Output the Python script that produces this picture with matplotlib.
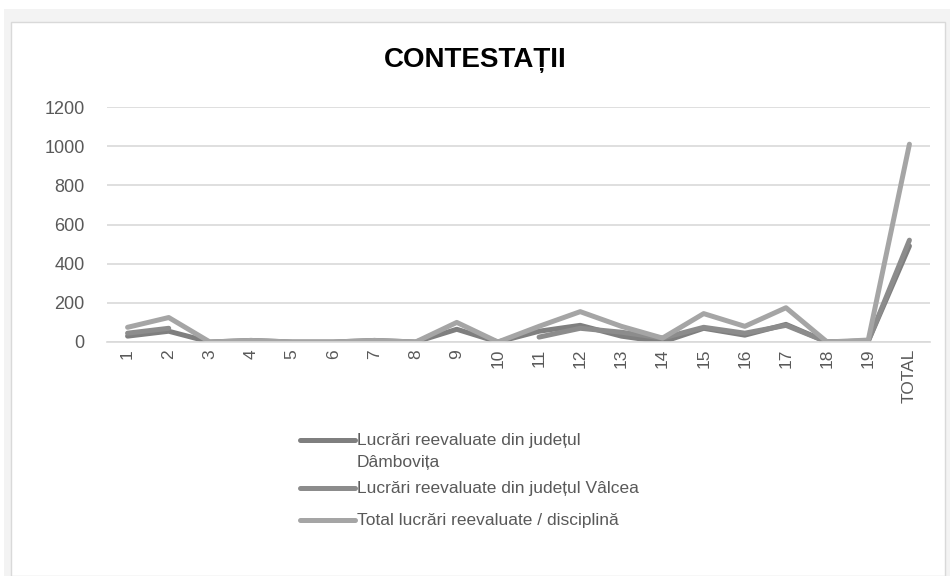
import numpy as np
import matplotlib.pyplot as plt
from matplotlib.patches import Rectangle
from matplotlib.lines import Line2D

categories = [str(i) for i in range(1, 20)] + ["TOTAL"]
nan = np.nan
dambovita = [30, 55, 0, 8, 0, 0, 8, 0, 65, 0, 55, 85, 30, 0, 70, 35, 90, 0, 5, 490]
valcea = [45, 70, nan, nan, nan, nan, nan, nan, nan, nan, 25, 70, 50, 20, 75, 45, 85, 0, 5, 520]
total = [75, 125, 0, 8, 0, 0, 8, 0, 100, 0, 80, 155, 80, 20, 145, 80, 175, 0, 10, 1010]
labels = ["Lucrări reevaluate din județul\nDâmbovița",
          "Lucrări reevaluate din județul Vâlcea",
          "Total lucrări reevaluate / disciplină"]
colors = ["#7f7f7f", "#8c8c8c", "#a5a5a5"]

plt.rcParams["font.family"] = ["Liberation Sans", "DejaVu Sans"]
fig = plt.figure(figsize=(9.5, 5.76), dpi=100)
W, H = 950, 576
# outer gray frame and white chart panel
fig.patches.append(Rectangle((4 / W, 0), 1, 1 - 9 / H, transform=fig.transFigure,
                             facecolor="#f3f3f3", edgecolor="none", zorder=-2))
fig.patches.append(Rectangle((11 / W, 0), 934 / W, 1 - 22 / H, transform=fig.transFigure,
                             facecolor="white", edgecolor="#d9d9d9", lw=1, zorder=-1))

ax = fig.add_axes([107 / W, 1 - 342 / H, 823 / W, 235 / H])
ax.set_facecolor("none")
x = np.arange(len(categories))
for ys, c in zip([dambovita, valcea, total], colors):
    ax.plot(x, ys, color=c, lw=3.6, solid_capstyle="round", solid_joinstyle="round")

ax.set_xlim(-0.5, len(categories) - 0.5)
ax.set_ylim(0, 1200)
ax.set_yticks(range(0, 1201, 200))
ax.set_xticks(x)
ax.set_xticklabels(categories, rotation=90, fontsize=12.5, color="#595959")
ax.tick_params(axis="y", labelsize=13, colors="#595959", length=0, pad=16)
ax.tick_params(axis="x", length=0, pad=5)
ax.grid(axis="y", color="#d9d9d9", lw=1.2)
ax.set_axisbelow(True)
for s in ["top", "right", "left"]:
    ax.spines[s].set_visible(False)
ax.spines["bottom"].set_color("#d9d9d9")
ax.spines["bottom"].set_linewidth(1.2)

fig.text(475 / W, 1 - 60 / H, "CONTESTAȚII", ha="center", va="center",
         fontsize=20, fontweight="bold")

# legend drawn by hand: handle level with the first text line
leg_y = [440, 488, 520]
for lab, c, yy in zip(labels, colors, leg_y):
    fy = 1 - yy / H
    fig.add_artist(Line2D([300 / W, 355 / W], [fy, fy], color=c, lw=3.6,
                          solid_capstyle="round", transform=fig.transFigure))
    fig.text(357 / W, fy + 7 / H, lab, ha="left", va="top", fontsize=12.5,
             color="#595959", linespacing=1.55)

fig.savefig("out.png", dpi=100)
